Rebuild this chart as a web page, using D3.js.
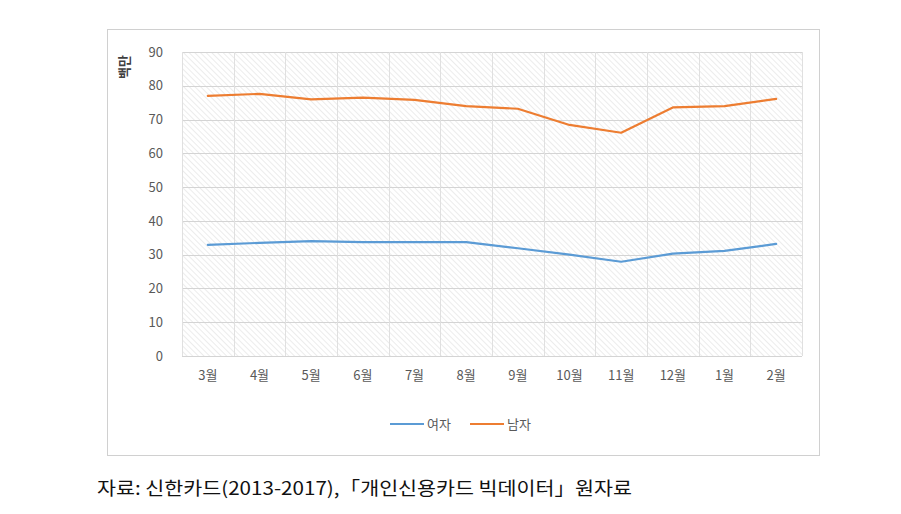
<!DOCTYPE html>
<html><head><meta charset="utf-8">
<script src="https://cdn.jsdelivr.net/npm/d3@7"></script>
<style>body{margin:0;background:#fff;}svg{display:block;}</style>
</head><body>
<svg id="c" width="901" height="514"></svg>
<script>
const categories = ["3월","4월","5월","6월","7월","8월","9월","10월","11월","12월","1월","2월"];
const female = [32.9, 33.5, 34.0, 33.7, 33.7, 33.7, 31.9, 30.0, 27.9, 30.3, 31.1, 33.2];
const male = [77.0, 77.6, 76.0, 76.5, 75.8, 74.0, 73.2, 68.4, 66.1, 73.6, 74.0, 76.1];
const yTicks = [0,10,20,30,40,50,60,70,80,90];
const seriesNames = ["여자","남자"];
const colors = ["#5B9BD5","#ED7D31"];
const yTitle = "백만";
const caption = "자료: 신한카드(2013-2017),「개인신용카드 빅데이터」원자료";

const svg = d3.select("#c");
const font = "'Noto Sans CJK KR', 'Noto Sans', sans-serif";
const L=182, R=802, T=52, B=356;

const defs = svg.append("defs");
const pat = defs.append("pattern").attr("id","hatch").attr("patternUnits","userSpaceOnUse")
  .attr("width",4).attr("height",4).attr("patternTransform","rotate(-45)");
pat.append("rect").attr("width",4).attr("height",4).attr("fill","#ffffff");
pat.append("line").attr("x1",0).attr("y1",0).attr("x2",0).attr("y2",4)
  .attr("stroke","#e2e2e2").attr("stroke-width",1.3);

// frame
svg.append("rect").attr("x",107.5).attr("y",29.5).attr("width",712).attr("height",426)
  .attr("fill","#fff").attr("stroke","#d0d0d0").attr("stroke-width",1);

const x = d3.scaleBand().domain(categories).range([L,R]);
const y = d3.scaleLinear().domain([0,90]).range([B,T]);

svg.append("rect").attr("x",L).attr("y",T).attr("width",R-L).attr("height",B-T).attr("fill","url(#hatch)");

// grid
const g = svg.append("g");
g.selectAll(".hg").data(yTicks).join("line")
  .attr("x1",L).attr("x2",R).attr("y1",d=>Math.round(y(d))+0.5).attr("y2",d=>Math.round(y(d))+0.5)
  .attr("stroke","#d4d4d4").attr("stroke-width",1);
const bounds = categories.map(c=>x(c)).concat([R]);
g.selectAll(".vg").data(bounds).join("line")
  .attr("x1",d=>Math.round(d)+0.5).attr("x2",d=>Math.round(d)+0.5).attr("y1",T).attr("y2",B)
  .attr("stroke","#e0e0e0").attr("stroke-width",1);

// y axis
const yAxis = svg.append("g").attr("transform",`translate(${L-19},0)`)
  .call(d3.axisLeft(y).tickValues(yTicks).tickSize(0).tickPadding(0));
yAxis.select(".domain").remove();
yAxis.selectAll("text").attr("font-family",font).attr("font-size",13).attr("fill","#595959");

// x axis
const xAxis = svg.append("g").attr("transform",`translate(0,${B+12})`)
  .call(d3.axisBottom(x).tickSize(0).tickPadding(0));
xAxis.select(".domain").remove();
xAxis.selectAll("text").attr("font-family",font).attr("font-size",13).attr("fill","#595959").attr("dy","0.9em");

// y title
svg.append("text").attr("transform","translate(124,67) rotate(-90)").attr("text-anchor","middle")
  .attr("dy","0.35em").attr("font-family",font).attr("font-size",13).attr("font-weight","bold").attr("fill","#404040").text(yTitle);

// lines
const line = d3.line().x((d,i)=>x(categories[i])+x.bandwidth()/2).y(d=>y(d));
[female, male].forEach((s,i)=>{
  svg.append("path").datum(s).attr("d",line).attr("fill","none")
    .attr("stroke",colors[i]).attr("stroke-width",2.2).attr("stroke-linejoin","round").attr("stroke-linecap","round");
});

// legend
const legX = [390, 470];
seriesNames.forEach((n,i)=>{
  svg.append("line").attr("x1",legX[i]).attr("x2",legX[i]+34).attr("y1",424).attr("y2",424)
    .attr("stroke",colors[i]).attr("stroke-width",2.2);
  svg.append("text").attr("x",legX[i]+37).attr("y",424).attr("dy","0.35em")
    .attr("font-family",font).attr("font-size",13).attr("fill","#595959").text(n);
});

// caption
svg.append("text").attr("x",97).attr("y",489).attr("dy","0.35em")
  .attr("font-family",font).attr("font-size",18).attr("fill","#111")
  .attr("textLength",535).attr("lengthAdjust","spacingAndGlyphs").text(caption);
</script>
</body></html>
